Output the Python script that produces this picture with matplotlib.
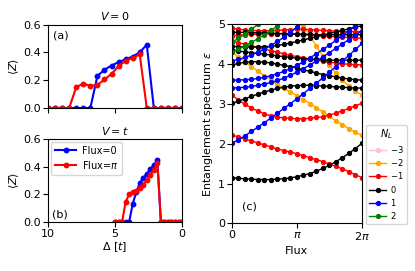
import numpy as np
import matplotlib
matplotlib.use("Agg")
import matplotlib.pyplot as plt

# --- panel (a), (b): <Z> vs Delta ---
delta_a = np.linspace(10, 0, 20)
z_a_flux0 = [0, 0, 0, 0, 0, 0, 0, 0.23, 0.275, 0.305, 0.33, 0.35, 0.37, 0.40, 0.455,
             0, 0, 0, 0, 0]
z_a_fluxpi = [0, 0, 0, 0, 0.15, 0.175, 0.16, 0.165, 0.205, 0.245, 0.30, 0.34, 0.36, 0.385,
              0, 0, 0, 0, 0, 0]

delta_b = np.linspace(5, 0, 20)
z_b_flux0 = [0, 0, 0, 0, 0, 0.13, 0.215, 0.28, 0.32, 0.35, 0.38, 0.415, 0.445,
             0, 0, 0, 0, 0, 0, 0]
z_b_fluxpi = [0, 0, 0, 0.145, 0.20, 0.215, 0.225, 0.245, 0.27, 0.30, 0.34, 0.375, 0.43,
              0, 0, 0, 0, 0, 0, 0]

# --- panel (c): entanglement spectrum vs flux (21 points, 0..2pi) ---
flux = np.linspace(0, 2 * np.pi, 21)
nan = np.nan

spec_m3 = []
spec_m2 = [
    [4.30, 4.18, 4.06, 3.94, 3.82, 3.71, 3.60, 3.49, 3.39, 3.30, 3.21, 3.11, 3.01, 2.91, 2.80,
     2.69, 2.58, 2.48, 2.38, 2.29, 2.21],
    [nan, nan, nan, nan, nan, nan, nan, nan, nan, nan, 5.15, 4.95, 4.72, 4.45, 4.20,
     3.97, 3.77, 3.60, 3.45, 3.33, 3.22],
]
spec_m1 = [
    [2.22, 2.17, 2.12, 2.07, 2.02, 1.97, 1.92, 1.87, 1.83, 1.79, 1.75, 1.70, 1.65, 1.60, 1.55,
     1.49, 1.43, 1.37, 1.30, 1.22, 1.15],
    [3.22, 3.10, 2.99, 2.90, 2.82, 2.75, 2.70, 2.67, 2.65, 2.64, 2.63, 2.63, 2.64, 2.66, 2.68,
     2.72, 2.77, 2.83, 2.89, 2.95, 3.02],
    [4.58, 4.54, 4.50, 4.46, 4.42, 4.38, 4.34, 4.30, 4.26, 4.22, 4.19, 4.16, 4.13, 4.10, 4.07,
     4.05, 4.03, 4.01, 4.00, 3.99, 3.98],
    [4.72, 4.73, 4.74, 4.75, 4.75, 4.76, 4.76, 4.76, 4.76, 4.75, 4.75, 4.74, 4.73, 4.72, 4.71,
     4.70, 4.69, 4.68, 4.67, 4.66, 4.65],
    [4.90, 4.88, 4.86, 4.85, 4.84, 4.84, 4.84, 4.85, 4.86, 4.87, 4.88, 4.88, 4.87, 4.86, 4.85,
     4.84, 4.83, 4.82, 4.82, 4.82, 4.82],
]
spec_0 = [
    [1.15, 1.13, 1.12, 1.11, 1.10, 1.10, 1.10, 1.11, 1.12, 1.14, 1.17, 1.21, 1.25, 1.31, 1.38,
     1.46, 1.55, 1.65, 1.76, 1.88, 2.01],
    [3.02, 3.07, 3.13, 3.19, 3.25, 3.30, 3.35, 3.39, 3.42, 3.45, 3.46, 3.47, 3.47, 3.46, 3.45,
     3.44, 3.43, 3.42, 3.41, 3.40, 3.40],
    [3.98, 4.02, 4.05, 4.06, 4.06, 4.05, 4.03, 4.00, 3.97, 3.94, 3.90, 3.86, 3.82, 3.78, 3.74,
     3.71, 3.68, 3.65, 3.63, 3.61, 3.60],
    [4.35, 4.33, 4.31, 4.29, 4.27, 4.25, 4.23, 4.21, 4.19, 4.17, 4.15, 4.14, 4.13, 4.12, 4.11,
     4.10, 4.10, 4.10, 4.10, 4.10, 4.10],
    [4.45, 4.44, 4.43, 4.43, 4.43, 4.44, 4.45, 4.47, 4.50, 4.53, 4.57, 4.61, 4.65, 4.69, 4.73,
     4.77, 4.81, 4.85, 4.89, 4.93, 4.97],
    [4.80, 4.80, 4.80, 4.79, 4.79, 4.78, 4.78, 4.77, 4.77, 4.76, 4.76, 4.75, 4.75, 4.74, 4.74,
     4.74, 4.74, 4.74, 4.74, 4.74, 4.74],
]
spec_1 = [
    [2.01, 2.10, 2.20, 2.31, 2.42, 2.53, 2.65, 2.77, 2.89, 3.01, 3.13, 3.26, 3.39, 3.52, 3.66,
     3.80, 3.94, 4.08, 4.22, 4.37, 4.52],
    [3.40, 3.41, 3.42, 3.44, 3.47, 3.50, 3.54, 3.59, 3.65, 3.72, 3.80, 3.89, 3.98, 4.08, 4.18,
     4.29, 4.40, 4.51, 4.62, 4.73, 4.84],
    [3.60, 3.60, 3.61, 3.62, 3.64, 3.67, 3.71, 3.76, 3.82, 3.89, 3.97, 4.06, 4.16, 4.26, 4.37,
     4.48, 4.60, 4.72, 4.84, 4.97, 5.10],
    [4.08, 4.12, 4.17, 4.23, 4.30, 4.38, 4.47, 4.57, 4.68, 4.80, 4.93, 5.06, nan, nan, nan,
     nan, nan, nan, nan, nan, nan],
]
spec_2 = [
    [4.30, 4.38, 4.46, 4.55, 4.64, 4.74, 4.85, 4.96, 5.08, nan, nan, nan, nan, nan, nan,
     nan, nan, nan, nan, nan, nan],
    [4.55, 4.65, 4.76, 4.88, 5.00, 5.12, nan, nan, nan, nan, nan, nan, nan, nan, nan,
     nan, nan, nan, nan, nan, nan],
]

sectors = [(spec_m3, 'pink', r'$-3$'), (spec_m2, 'orange', r'$-2$'),
           (spec_m1, 'red', r'$-1$'), (spec_0, 'black', r'$0$'),
           (spec_1, 'blue', r'$1$'), (spec_2, 'green', r'$2$')]

fig = plt.figure(figsize=(4.15, 2.71), dpi=100)
ax_a = fig.add_axes([0.1157, 0.6015, 0.323, 0.308])
ax_b = fig.add_axes([0.1157, 0.181, 0.323, 0.306])
ax_c = fig.add_axes([0.559, 0.176, 0.313, 0.734])

kw = dict(marker='o', ms=3.2, lw=1.5)
ax_a.plot(delta_a, z_a_flux0, color='blue', **kw)
ax_a.plot(delta_a, z_a_fluxpi, color='red', **kw)
ax_b.plot(delta_b, z_b_flux0, color='blue', label='Flux=0', **kw)
ax_b.plot(delta_b, z_b_fluxpi, color='red', label=r'Flux=$\pi$', **kw)

for ax in (ax_a, ax_b):
    ax.set_xlim(10, 0)
    ax.set_ylim(0, 0.6)
    ax.set_xticks([10, 5, 0])
    ax.set_yticks([0, 0.2, 0.4, 0.6])
    ax.set_ylabel(r'$\langle Z \rangle$', fontsize=8, labelpad=2)
    ax.tick_params(labelsize=8, pad=1.5)
ax_a.set_xticklabels([])
ax_a.set_title(r'$V=0$', fontsize=8, pad=3)
ax_b.set_title(r'$V=t$', fontsize=8, pad=3)
ax_b.set_xlabel(r'$\Delta\ [t]$', fontsize=8, labelpad=1)
ax_a.text(0.04, 0.93, '(a)', transform=ax_a.transAxes, fontsize=8, va='top')
ax_b.text(0.03, 0.03, '(b)', transform=ax_b.transAxes, fontsize=8, va='bottom')
ax_b.legend(loc='upper left', fontsize=7, handlelength=2.2, borderpad=0.4,
            labelspacing=0.3, handletextpad=0.6, borderaxespad=0.3)

for lines, color, label in sectors:
    first = True
    for vals in lines:
        ax_c.plot(flux, vals, color=color, marker='o', ms=2.8, lw=1.0,
                  label=label if first else None)
        first = False
    if not lines:
        ax_c.plot([], [], color=color, marker='o', ms=2.8, lw=1.0, label=label)

ax_c.set_xlim(0, 2 * np.pi)
ax_c.set_ylim(0, 5)
ax_c.set_xticks([0, np.pi, 2 * np.pi])
ax_c.set_xticklabels(['0', r'$\pi$', r'$2\pi$'])
ax_c.set_yticks([0, 1, 2, 3, 4, 5])
ax_c.tick_params(labelsize=8, pad=1.5)
ax_c.set_xlabel('Flux', fontsize=8, labelpad=3)
ax_c.set_ylabel(r'Entanglement spectrum $\varepsilon$', fontsize=8, labelpad=2)
ax_c.text(0.08, 0.07, '(c)', transform=ax_c.transAxes, fontsize=8)
leg = ax_c.legend(title=r'$N_L$', loc='lower left', bbox_to_anchor=(1.035, -0.005),
                  borderaxespad=0, fontsize=6, title_fontsize=7, handlelength=2.0,
                  labelspacing=0.28, borderpad=0.35, handletextpad=0.5)

fig.savefig('out.png', dpi=100)
